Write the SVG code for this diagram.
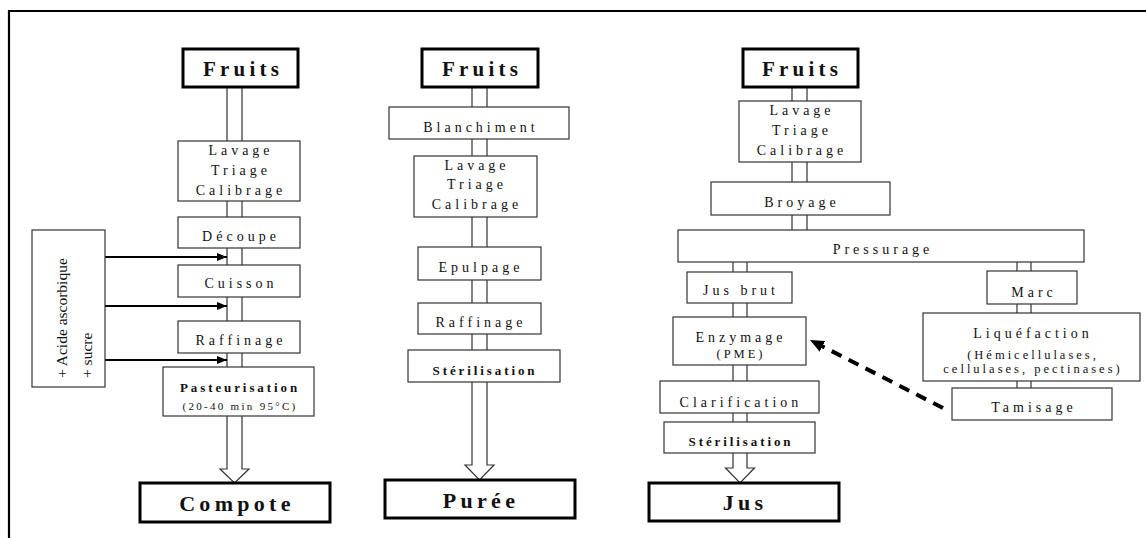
<svg xmlns="http://www.w3.org/2000/svg" width="1146" height="538" viewBox="0 0 1146 538">
<style>
.box{fill:#fff;stroke:#333;stroke-width:1.2}
.tbox{fill:#fff;stroke:#000;stroke-width:3}
.pipe{fill:#fff;stroke:#333;stroke-width:1.2}
.t{font-family:"Liberation Serif","Times New Roman",serif;font-size:14px;letter-spacing:4px;text-anchor:middle;fill:#111}
.tb{font-family:"Liberation Serif","Times New Roman",serif;font-size:21px;font-weight:bold;letter-spacing:4.2px;text-anchor:middle;fill:#111}
.te{font-family:"Liberation Serif","Times New Roman",serif;font-size:22px;font-weight:bold;letter-spacing:4.3px;text-anchor:middle;fill:#111}
.ts{font-family:"Liberation Serif","Times New Roman",serif;font-size:13px;font-weight:bold;letter-spacing:2.9px;text-anchor:middle;fill:#111}
.tp{font-family:"Liberation Serif","Times New Roman",serif;font-size:11px;letter-spacing:2.3px;text-anchor:middle;fill:#111}
.tq{font-family:"Liberation Serif","Times New Roman",serif;font-size:12.5px;letter-spacing:3px;text-anchor:middle;fill:#111}
.tv{font-family:"Liberation Serif","Times New Roman",serif;font-size:15.5px;fill:#111}
.arr{stroke:#000;stroke-width:2;fill:none;marker-end:url(#ah)}
.dash{stroke:#000;stroke-width:4;fill:none;stroke-dasharray:11 8;marker-end:url(#ahd)}
</style>
<defs>
<marker id="ah" viewBox="0 0 10 8" refX="10" refY="4" markerWidth="10" markerHeight="8" markerUnits="userSpaceOnUse" orient="auto">
<path d="M0,0 L10,4 L0,8 Z" fill="#000"/>
</marker>
<marker id="ahd" viewBox="0 0 14 12" refX="14" refY="6" markerWidth="14" markerHeight="12" markerUnits="userSpaceOnUse" orient="auto">
<path d="M0,0 L14,6 L0,12 Z" fill="#000"/>
</marker>
</defs>
<rect x="0" y="0" width="1146" height="538" fill="#fff"/>
<path d="M9,538 V11 H1146" fill="none" stroke="#000" stroke-width="2.2"/>

<g id="connectors">
<path class="pipe" d="M227,87 V469 H220 L234.5,483 L249,469 H242 V87"/>
<path class="pipe" d="M472,87 V465 H465 L479.5,480 L494,465 H487 V87"/>
<path class="pipe" d="M792,87 V230 M807,87 V230"/>
<path class="pipe" d="M733,262 V468 H725.5 L740,483 L754.5,468 H747 V262"/>
<path class="pipe" d="M1017,262 V388 M1031,262 V388"/>
<line class="arr" x1="105" y1="257" x2="227" y2="257"/>
<line class="arr" x1="105" y1="306" x2="227" y2="306"/>
<line class="arr" x1="105" y1="360" x2="227" y2="360"/>
<line class="dash" x1="943" y1="408" x2="810" y2="340"/>
</g>

<g id="additifs">
<rect class="box" x="32" y="230" width="73" height="157"/>
<text class="tv" transform="translate(67,378) rotate(-90)">+ Acide ascorbique</text>
<text class="tv" transform="translate(92,378) rotate(-90)">+ sucre</text>
</g>

<g id="c1-fruits"><rect class="tbox" x="183" y="49" width="115" height="38"/><text class="tb" x="243" y="76">Fruits</text></g>
<g id="c1-lavage"><rect class="box" x="178" y="141" width="122" height="60"/>
<text class="t" x="241" y="155">Lavage</text><text class="t" x="241" y="175">Triage</text><text class="t" x="241" y="195">Calibrage</text></g>
<g id="c1-decoupe"><rect class="box" x="178" y="217" width="122" height="31"/><text class="t" x="241" y="241">Découpe</text></g>
<g id="c1-cuisson"><rect class="box" x="178" y="265" width="122" height="32"/><text class="t" x="241" y="288">Cuisson</text></g>
<g id="c1-raffinage"><rect class="box" x="178" y="321" width="122" height="32"/><text class="t" x="241" y="345">Raffinage</text></g>
<g id="c1-pasteurisation"><rect class="box" x="163" y="367" width="151" height="49"/>
<text class="ts" x="240" y="392">Pasteurisation</text><text class="tp" x="240" y="410">(20-40 min 95°C)</text></g>
<g id="c1-compote"><rect class="tbox" x="140" y="483" width="190" height="39"/><text class="te" x="237" y="511">Compote</text></g>

<g id="c2-fruits"><rect class="tbox" x="422" y="49" width="116" height="38"/><text class="tb" x="482" y="76">Fruits</text></g>
<g id="c2-blanchiment"><rect class="box" x="389" y="107" width="180" height="32"/><text class="t" x="481" y="132">Blanchiment</text></g>
<g id="c2-lavage"><rect class="box" x="414" y="156" width="123" height="61"/>
<text class="t" x="477" y="170">Lavage</text><text class="t" x="477" y="189">Triage</text><text class="t" x="477" y="209">Calibrage</text></g>
<g id="c2-epulpage"><rect class="box" x="418" y="247" width="123" height="33"/><text class="t" x="481" y="272">Epulpage</text></g>
<g id="c2-raffinage"><rect class="box" x="418" y="303" width="123" height="31"/><text class="t" x="481" y="327">Raffinage</text></g>
<g id="c2-sterilisation"><rect class="box" x="408" y="350" width="152" height="32"/><text class="ts" x="485" y="375">Stérilisation</text></g>
<g id="c2-puree"><rect class="tbox" x="385" y="480" width="190" height="38"/><text class="te" x="481" y="508">Purée</text></g>

<g id="c3-fruits"><rect class="tbox" x="743" y="49" width="115" height="38"/><text class="tb" x="802" y="76">Fruits</text></g>
<g id="c3-lavage"><rect class="box" x="739" y="101" width="122" height="61"/>
<text class="t" x="802" y="115">Lavage</text><text class="t" x="802" y="135">Triage</text><text class="t" x="802" y="155">Calibrage</text></g>
<g id="c3-broyage"><rect class="box" x="711" y="182" width="179" height="33"/><text class="t" x="802" y="207">Broyage</text></g>
<g id="c3-pressurage"><rect class="box" x="678" y="230" width="406" height="32"/><text class="t" x="883" y="254">Pressurage</text></g>
<g id="c3-jusbrut"><rect class="box" x="687" y="272" width="105" height="31"/><text class="t" x="741" y="295">Jus brut</text></g>
<g id="c3-enzymage"><rect class="box" x="673" y="317" width="133" height="48"/>
<text class="t" x="741" y="342">Enzymage</text><text class="tq" x="741" y="358">(PME)</text></g>
<g id="c3-clarification"><rect class="box" x="660" y="381" width="159" height="32"/><text class="t" x="741" y="407">Clarification</text></g>
<g id="c3-sterilisation"><rect class="box" x="664" y="422" width="151" height="31"/><text class="ts" x="741" y="446">Stérilisation</text></g>
<g id="c3-jus"><rect class="tbox" x="649" y="483" width="190" height="38"/><text class="te" x="745" y="510">Jus</text></g>
<g id="c3-marc"><rect class="box" x="987" y="271" width="90" height="33"/><text class="t" x="1034" y="297">Marc</text></g>
<g id="c3-liquefaction"><rect class="box" x="923" y="313" width="217" height="68"/>
<text class="t" x="1033" y="338">Liquéfaction</text><text class="tq" x="1033" y="359">(Hémicellulases,</text><text class="tq" x="1033" y="373">cellulases, pectinases)</text></g>
<g id="c3-tamisage"><rect class="box" x="952" y="388" width="160" height="32"/><text class="t" x="1034" y="412">Tamisage</text></g>
</svg>
